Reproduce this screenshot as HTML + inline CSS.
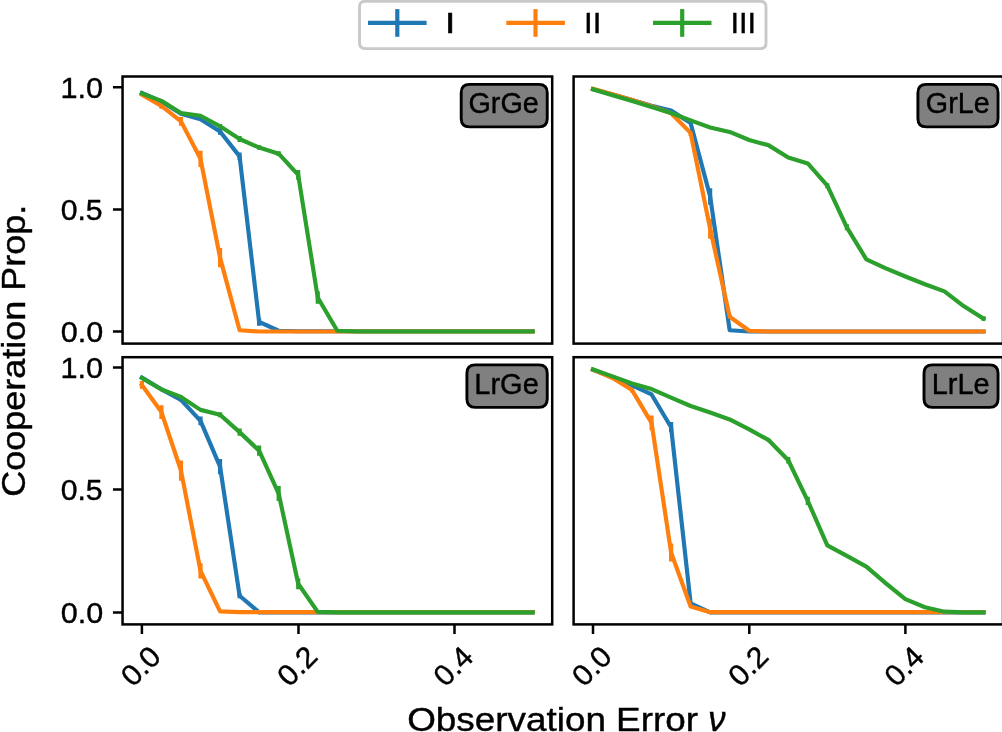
<!DOCTYPE html>
<html><head><meta charset="utf-8"><style>
html,body{margin:0;padding:0;background:#fff;width:1002px;height:732px;overflow:hidden}
svg{display:block;will-change:transform}
text{-webkit-font-smoothing:antialiased;stroke:#000;stroke-width:0.4px}
</style></head><body>
<svg width="1002" height="732" viewBox="0 0 1002 732" font-family="'Liberation Sans', sans-serif" style="font-kerning:none">
<rect width="1002" height="732" fill="#fff"/>
<clipPath id="cp00"><rect x="122.55" y="76.5" width="429.65" height="267.1"/></clipPath>
<g clip-path="url(#cp00)">
<path d="M220.05 127.99V134.84M239.59 152.45V160.28M259.12 318.29V325.63" stroke="#1f77b4" stroke-width="4.17" fill="none"/>
<path d="M161.44 103.29V108.67M180.98 116.99V125.79M200.51 150.74V166.88M220.05 248.09V267.17" stroke="#ff7f0e" stroke-width="4.17" fill="none"/>
<path d="M220.05 124.08V128.48M239.59 136.06V141.94M259.12 145.36V149.76M278.66 151.23V156.12M298.2 170.06V179.85M317.74 291.14V303.86" stroke="#2ca02c" stroke-width="4.17" fill="none"/>
<polyline points="141.9,93.02 161.44,101.58 180.98,113.81 200.51,119.19 220.05,131.42 239.59,156.37 259.12,321.96 278.66,330.77 298.2,331.26 317.74,331.26 337.27,331.26 356.81,331.26 376.35,331.26 395.89,331.26 415.42,331.26 434.96,331.26 454.5,331.26 474.04,331.26 493.58,331.26 513.11,331.26 532.65,331.26" stroke="#1f77b4" stroke-width="4.17" fill="none" stroke-linejoin="round" stroke-linecap="square"/>
<polyline points="141.9,94.73 161.44,105.98 180.98,121.39 200.51,158.81 220.05,257.63 239.59,330.28 259.12,331.5 278.66,331.5 298.2,331.5 317.74,331.5 337.27,331.5 356.81,331.5 376.35,331.5 395.89,331.5 415.42,331.5 434.96,331.5 454.5,331.5 474.04,331.5 493.58,331.5 513.11,331.5 532.65,331.5" stroke="#ff7f0e" stroke-width="4.17" fill="none" stroke-linejoin="round" stroke-linecap="square"/>
<polyline points="141.9,93.5 161.44,100.84 180.98,113.07 200.51,115.76 220.05,126.28 239.59,139 259.12,147.56 278.66,153.68 298.2,174.96 317.74,297.5 337.27,330.77 356.81,331.5 376.35,331.5 395.89,331.5 415.42,331.5 434.96,331.5 454.5,331.5 474.04,331.5 493.58,331.5 513.11,331.5 532.65,331.5" stroke="#2ca02c" stroke-width="4.17" fill="none" stroke-linejoin="round" stroke-linecap="square"/>
</g>
<rect x="122.55" y="76.5" width="429.65" height="267.1" fill="none" stroke="#000" stroke-width="2.5" stroke-linejoin="miter"/>
<path d="M112.95 331.4H122.55M112.95 209.4H122.55M112.95 87.3H122.55" stroke="#000" stroke-width="2.5"/>
<clipPath id="cp10"><rect x="573.6" y="76.5" width="429.4" height="267.1"/></clipPath>
<g clip-path="url(#cp10)">
<path d="M710.15 188.16V204.8" stroke="#1f77b4" stroke-width="4.17" fill="none"/>
<path d="M690.62 129.7V136.06M710.15 218.74V238.8M729.67 314.38V319.27" stroke="#ff7f0e" stroke-width="4.17" fill="none"/>
<path d="M827.3 183.27V188.16M846.83 224.37V230.24M983.5 316.33V320.74" stroke="#2ca02c" stroke-width="4.17" fill="none"/>
<polyline points="593,89.35 612.52,94.48 632.05,100.11 651.58,105.73 671.1,110.63 690.62,123.1 710.15,196.48 729.67,330.28 749.2,331.5 768.73,331.5 788.25,331.5 807.77,331.5 827.3,331.5 846.83,331.5 866.35,331.5 885.88,331.5 905.4,331.5 924.92,331.5 944.45,331.5 963.97,331.5 983.5,331.5" stroke="#1f77b4" stroke-width="4.17" fill="none" stroke-linejoin="round" stroke-linecap="square"/>
<polyline points="593,88.86 612.52,94.24 632.05,100.11 651.58,106.22 671.1,113.32 690.62,132.88 710.15,228.77 729.67,316.82 749.2,330.77 768.73,331.5 788.25,331.5 807.77,331.5 827.3,331.5 846.83,331.5 866.35,331.5 885.88,331.5 905.4,331.5 924.92,331.5 944.45,331.5 963.97,331.5 983.5,331.5" stroke="#ff7f0e" stroke-width="4.17" fill="none" stroke-linejoin="round" stroke-linecap="square"/>
<polyline points="593,89.35 612.52,95.22 632.05,101.09 651.58,106.96 671.1,113.07 690.62,120.41 710.15,127.5 729.67,131.91 749.2,139.98 768.73,145.36 788.25,157.59 807.77,163.46 827.3,185.72 846.83,227.3 866.35,259.34 885.88,268.39 905.4,276.47 924.92,284.29 944.45,291.39 963.97,306.31 983.5,318.54" stroke="#2ca02c" stroke-width="4.17" fill="none" stroke-linejoin="round" stroke-linecap="square"/>
</g>
<rect x="573.6" y="76.5" width="429.4" height="267.1" fill="none" stroke="#000" stroke-width="2.5" stroke-linejoin="miter"/>
<clipPath id="cp01"><rect x="122.55" y="357.2" width="429.65" height="267.2"/></clipPath>
<g clip-path="url(#cp01)">
<path d="M180.98 398.13V401.55M200.51 416.48V425.28M220.05 459.04V474.2M239.59 593.32V598.21" stroke="#1f77b4" stroke-width="4.17" fill="none"/>
<path d="M141.9 381.01V388.84M161.44 405.22V418.92M180.98 460.38V480.68M200.51 563.24V578.4" stroke="#ff7f0e" stroke-width="4.17" fill="none"/>
<path d="M220.05 412.32V417.21M239.59 428.46V435.8M259.12 445.58V455.86M278.66 485.94V501.11M298.2 578.28V589.29" stroke="#2ca02c" stroke-width="4.17" fill="none"/>
<polyline points="141.9,377.58 161.44,389.32 180.98,399.84 200.51,420.88 220.05,466.62 239.59,595.77 259.12,612.4 278.66,612.4 298.2,612.4 317.74,612.4 337.27,612.4 356.81,612.4 376.35,612.4 395.89,612.4 415.42,612.4 434.96,612.4 454.5,612.4 474.04,612.4 493.58,612.4 513.11,612.4 532.65,612.4" stroke="#1f77b4" stroke-width="4.17" fill="none" stroke-linejoin="round" stroke-linecap="square"/>
<polyline points="141.9,384.92 161.44,412.07 180.98,470.53 200.51,570.82 220.05,611.42 239.59,612.16 259.12,612.16 278.66,612.16 298.2,612.16 317.74,612.16 337.27,612.16 356.81,612.16 376.35,612.16 395.89,612.16 415.42,612.16 434.96,612.16 454.5,612.16 474.04,612.16 493.58,612.16 513.11,612.16 532.65,612.16" stroke="#ff7f0e" stroke-width="4.17" fill="none" stroke-linejoin="round" stroke-linecap="square"/>
<polyline points="141.9,378.07 161.44,389.57 180.98,396.91 200.51,409.87 220.05,414.76 239.59,432.13 259.12,450.72 278.66,493.52 298.2,583.78 317.74,611.91 337.27,612.4 356.81,612.4 376.35,612.4 395.89,612.4 415.42,612.4 434.96,612.4 454.5,612.4 474.04,612.4 493.58,612.4 513.11,612.4 532.65,612.4" stroke="#2ca02c" stroke-width="4.17" fill="none" stroke-linejoin="round" stroke-linecap="square"/>
</g>
<rect x="122.55" y="357.2" width="429.65" height="267.2" fill="none" stroke="#000" stroke-width="2.5" stroke-linejoin="miter"/>
<path d="M112.95 612.45H122.55M112.95 489.5H122.55M112.95 367.4H122.55" stroke="#000" stroke-width="2.5"/>
<path d="M141.9 624.4V634M298.5 624.4V634M454.5 624.4V634" stroke="#000" stroke-width="2.5"/>
<clipPath id="cp11"><rect x="573.6" y="357.2" width="429.4" height="267.2"/></clipPath>
<g clip-path="url(#cp11)">
<path d="M671.1 422.1V432.37" stroke="#1f77b4" stroke-width="4.17" fill="none"/>
<path d="M632.05 387.61V392.5M651.58 415.5V430.17M671.1 543.42V561.52" stroke="#ff7f0e" stroke-width="4.17" fill="none"/>
<path d="M768.73 438.73V441.67M788.25 457.08V463.44M807.77 496.7V505.02" stroke="#2ca02c" stroke-width="4.17" fill="none"/>
<polyline points="593,369.76 612.52,377.09 632.05,385.41 651.58,394.46 671.1,427.24 690.62,603.35 710.15,612.4 729.67,612.4 749.2,612.4 768.73,612.4 788.25,612.4 807.77,612.4 827.3,612.4 846.83,612.4 866.35,612.4 885.88,612.4 905.4,612.4 924.92,612.4 944.45,612.4 963.97,612.4 983.5,612.4" stroke="#1f77b4" stroke-width="4.17" fill="none" stroke-linejoin="round" stroke-linecap="square"/>
<polyline points="593,369.76 612.52,378.07 632.05,390.06 651.58,422.83 671.1,552.47 690.62,606.53 710.15,612.16 729.67,612.16 749.2,612.16 768.73,612.16 788.25,612.16 807.77,612.16 827.3,612.16 846.83,612.16 866.35,612.16 885.88,612.16 905.4,612.16 924.92,612.16 944.45,612.16 963.97,612.16 983.5,612.16" stroke="#ff7f0e" stroke-width="4.17" fill="none" stroke-linejoin="round" stroke-linecap="square"/>
<polyline points="593,369.51 612.52,376.36 632.05,383.45 651.58,389.08 671.1,397.64 690.62,405.96 710.15,412.56 729.67,419.41 749.2,429.44 768.73,440.2 788.25,460.26 807.77,500.86 827.3,545.38 846.83,555.9 866.35,566.66 885.88,583.29 905.4,599.19 924.92,607.26 944.45,611.67 963.97,612.4 983.5,612.4" stroke="#2ca02c" stroke-width="4.17" fill="none" stroke-linejoin="round" stroke-linecap="square"/>
</g>
<rect x="573.6" y="357.2" width="429.4" height="267.2" fill="none" stroke="#000" stroke-width="2.5" stroke-linejoin="miter"/>
<path d="M593 624.4V634M749.3 624.4V634M905.4 624.4V634" stroke="#000" stroke-width="2.5"/>
<path d="M469.53 84.4H538.92Q547.25 84.4 547.25 92.73V118.57Q547.25 126.9 538.92 126.9H469.53Q461.2 126.9 461.2 118.57V92.73Q461.2 84.4 469.53 84.4Z" fill="#808080" stroke="#000" stroke-width="2.9"/>
<text transform="translate(468.45,113.3) scale(0.9751,1)" font-size="29.50" fill="#000">GrGe</text>
<path d="M926.23 84.4H989.72Q998.05 84.4 998.05 92.73V118.57Q998.05 126.9 989.72 126.9H926.23Q917.9 126.9 917.9 118.57V92.73Q917.9 84.4 926.23 84.4Z" fill="#808080" stroke="#000" stroke-width="2.9"/>
<text transform="translate(925.86,113.3) scale(0.9731,1)" font-size="29.50" fill="#000">GrLe</text>
<path d="M475.23 364.85H538.92Q547.25 364.85 547.25 373.18V399.07Q547.25 407.4 538.92 407.4H475.23Q466.9 407.4 466.9 399.07V373.18Q466.9 364.85 475.23 364.85Z" fill="#808080" stroke="#000" stroke-width="2.9"/>
<text transform="translate(474.32,393.7) scale(0.9830,1)" font-size="29.50" fill="#000">LrGe</text>
<path d="M932.33 364.85H989.72Q998.05 364.85 998.05 373.18V399.07Q998.05 407.4 989.72 407.4H932.33Q924 407.4 924 399.07V373.18Q924 364.85 932.33 364.85Z" fill="#808080" stroke="#000" stroke-width="2.9"/>
<text transform="translate(931.72,393.7) scale(0.9817,1)" font-size="29.50" fill="#000">LrLe</text>
<text transform="translate(60.71,341.86) scale(1.0354,1)" font-size="29.52" fill="#000">0.0</text>
<text transform="translate(60.72,219.86) scale(1.0222,1)" font-size="29.52" fill="#000">0.5</text>
<text transform="translate(60.46,97.76) scale(1.0389,1)" font-size="29.52" fill="#000">1.0</text>
<text transform="translate(60.71,622.91) scale(1.0354,1)" font-size="29.52" fill="#000">0.0</text>
<text transform="translate(60.72,499.96) scale(1.0222,1)" font-size="29.52" fill="#000">0.5</text>
<text transform="translate(60.46,377.86) scale(1.0389,1)" font-size="29.52" fill="#000">1.0</text>
<text transform="translate(140.6,666.1) rotate(-45) translate(-20.98,10.11) scale(1.0274,1)" font-size="29.38">0.0</text>
<text transform="translate(296.9,666.1) rotate(-45) translate(-20.99,10.11) scale(1.0363,1)" font-size="29.38">0.2</text>
<text transform="translate(453.2,666.1) rotate(-45) translate(-20.97,10.11) scale(1.0198,1)" font-size="29.38">0.4</text>
<text transform="translate(591.7,666.1) rotate(-45) translate(-20.98,10.11) scale(1.0274,1)" font-size="29.38">0.0</text>
<text transform="translate(747.9,666.1) rotate(-45) translate(-20.99,10.11) scale(1.0363,1)" font-size="29.38">0.2</text>
<text transform="translate(904.1,666.1) rotate(-45) translate(-20.97,10.11) scale(1.0198,1)" font-size="29.38">0.4</text>
<text transform="translate(407.15,730.88) scale(1.1146,1)" font-size="33.09" fill="#000">Observation Error</text>
<text transform="translate(708.23,731.2) scale(1.0039,1)" font-size="34.45" font-style="italic" fill="#000">ν</text>
<text transform="translate(25.1,496.83) rotate(-90) scale(1.0874,1)" font-size="33.12">Cooperation Prop.</text>
<path d="M365.06 1.3H760.44Q766 1.3 766 6.86V43.04Q766 48.6 760.44 48.6H365.06Q359.5 48.6 359.5 43.04V6.86Q359.5 1.3 365.06 1.3Z" fill="#fff" fill-opacity="0.8" stroke="#c9c9c9" stroke-width="2.9"/>
<path d="M397.3 9.1V36.8" stroke="#1f77b4" stroke-width="4.17"/>
<path d="M368 22.8H426.6" stroke="#1f77b4" stroke-width="4.17"/>
<text transform="translate(444.84,32.7) scale(1.2955,1)" font-size="29.80" fill="#000">I</text>
<path d="M535.5 9.1V36.8" stroke="#ff7f0e" stroke-width="4.17"/>
<path d="M506.3 22.8H564.9" stroke="#ff7f0e" stroke-width="4.17"/>
<text transform="translate(584.12,32.7) scale(1.0491,1)" font-size="29.80" fill="#000">II</text>
<path d="M682.2 9.1V36.8" stroke="#2ca02c" stroke-width="4.17"/>
<path d="M653 22.8H711.5" stroke="#2ca02c" stroke-width="4.17"/>
<text transform="translate(730.47,32.7) scale(1.0292,1)" font-size="29.80" fill="#000">III</text>
</svg>
</body></html>
